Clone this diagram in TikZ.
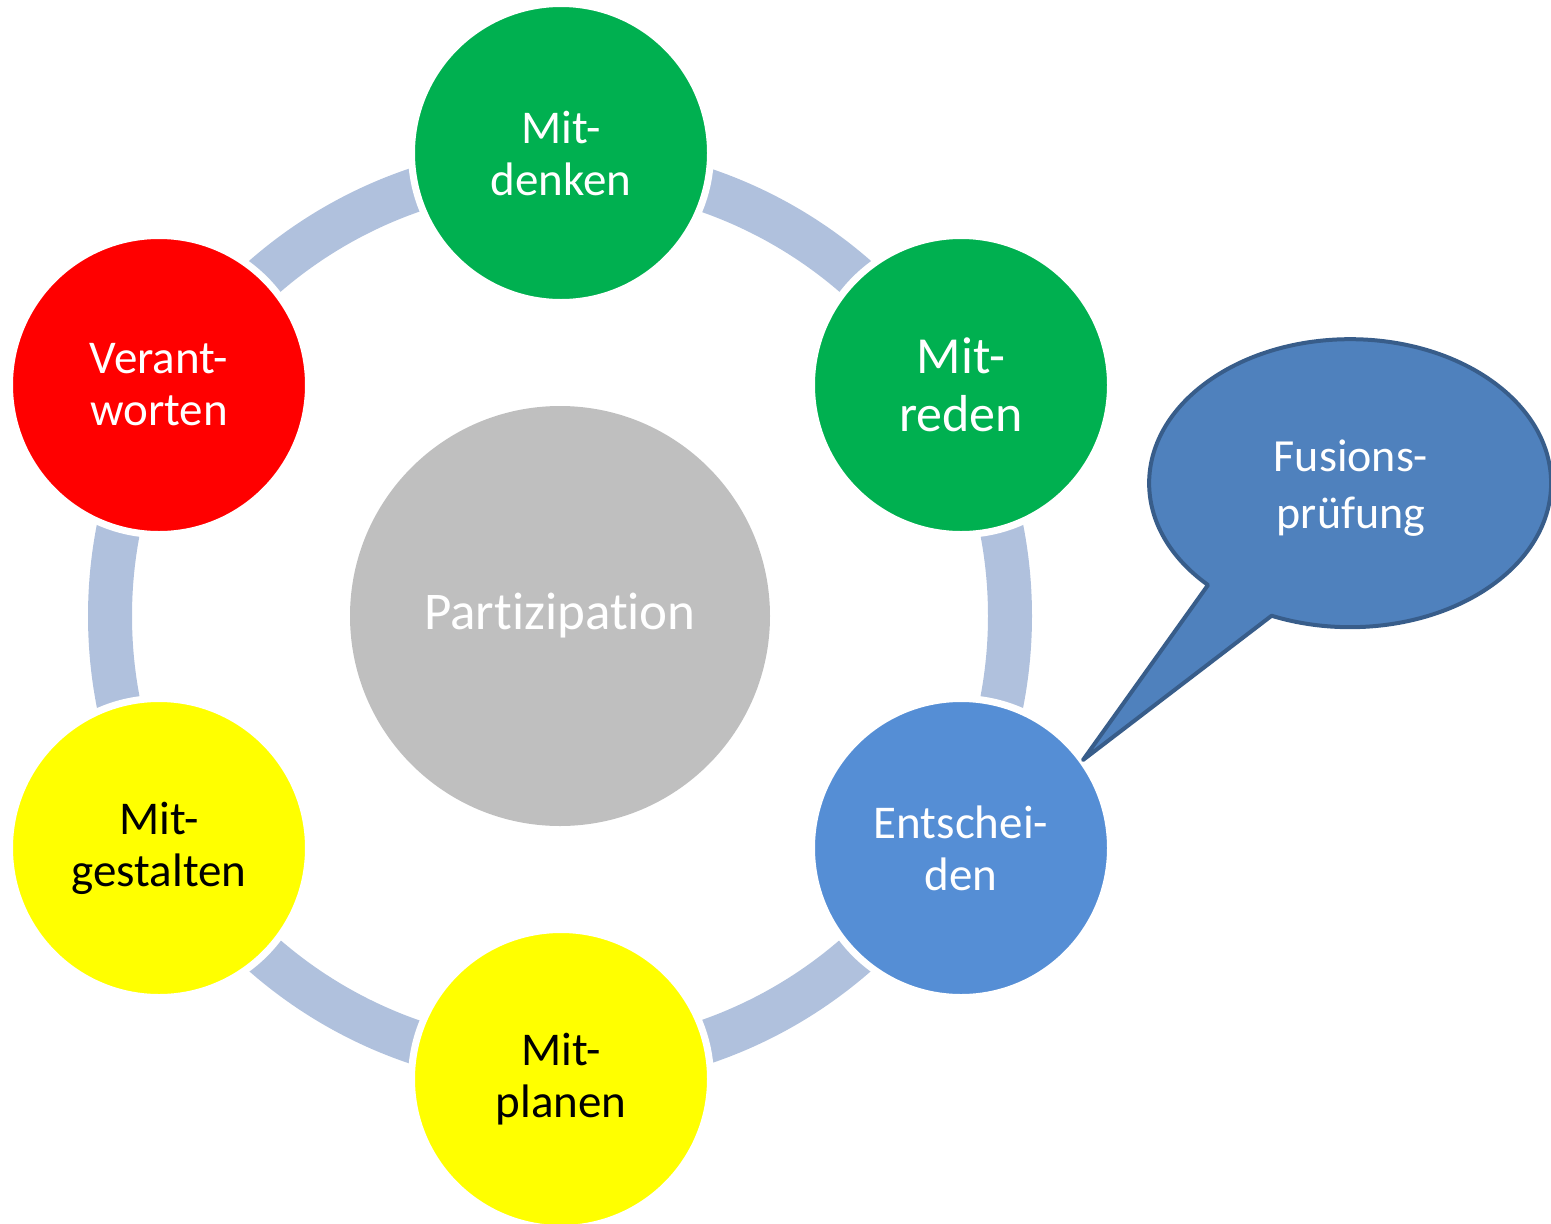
\documentclass[tikz,border=0pt]{standalone}
\usepackage{fontspec}
\setmainfont{Carlito}[Ligatures={NoCommon}]
\definecolor{ringblue}{HTML}{B0C1DD}
\definecolor{pgreen}{HTML}{00B050}
\definecolor{pred}{HTML}{FF0000}
\definecolor{pyellow}{HTML}{FFFF00}
\definecolor{pblue}{HTML}{558ED5}
\definecolor{pgray}{HTML}{BFBFBF}
\definecolor{bubfill}{HTML}{4F81BD}
\definecolor{bubline}{HTML}{385D8A}
\tikzset{
  petal/.style={circle, minimum size=299, draw=white, line width=7, inner sep=0, align=center, text=white,
    font=\fontsize{47}{52}\selectfont},
  ringline/.style={draw=ringblue, line width=44},
  bubble/.style={fill=bubfill, draw=bubline, line width=4, line join=round},
}
\begin{document}
\begin{tikzpicture}[x=1pt,y=-1pt]
\useasboundingbox (0,0) rectangle (1551,1224);
% centre
\node[circle, fill=pgray, minimum size=420, inner sep=0, text=white, font=\fontsize{53}{60}\selectfont] (part) at (560,616) {\raisebox{-3pt}{Partizipation}};
% ring
\draw[ringline] (part.center) circle[radius=450];
% petals
\node[petal, fill=pgreen] (denken) at (561,153) {Mit-\\denken};
\node[petal, fill=pgreen, font=\fontsize{52}{58}\selectfont] (reden) at (961,385) {Mit-\\reden};
\node[petal, fill=pblue] (entsch) at (961,848) {Entschei-\\den};
\node[petal, fill=pyellow, text=black] (planen) at (561,1079) {Mit-\\planen};
\node[petal, fill=pyellow, text=black] (gestalten) at (159,848) {Mit-\\gestalten};
\node[petal, fill=pred] (verant) at (159,385) {Verant-\\worten};
% speech bubble
\coordinate (tip) at (1083,760);
\path[bubble] (tip) -- (1208,585) arc[start angle=135, end angle=473, x radius=201, y radius=144] -- cycle;
\node[align=center, text=white, font=\fontsize{46}{57}\selectfont] (fusion) at (1351,488) {Fusions-\\prüfung};
\end{tikzpicture}
\end{document}
